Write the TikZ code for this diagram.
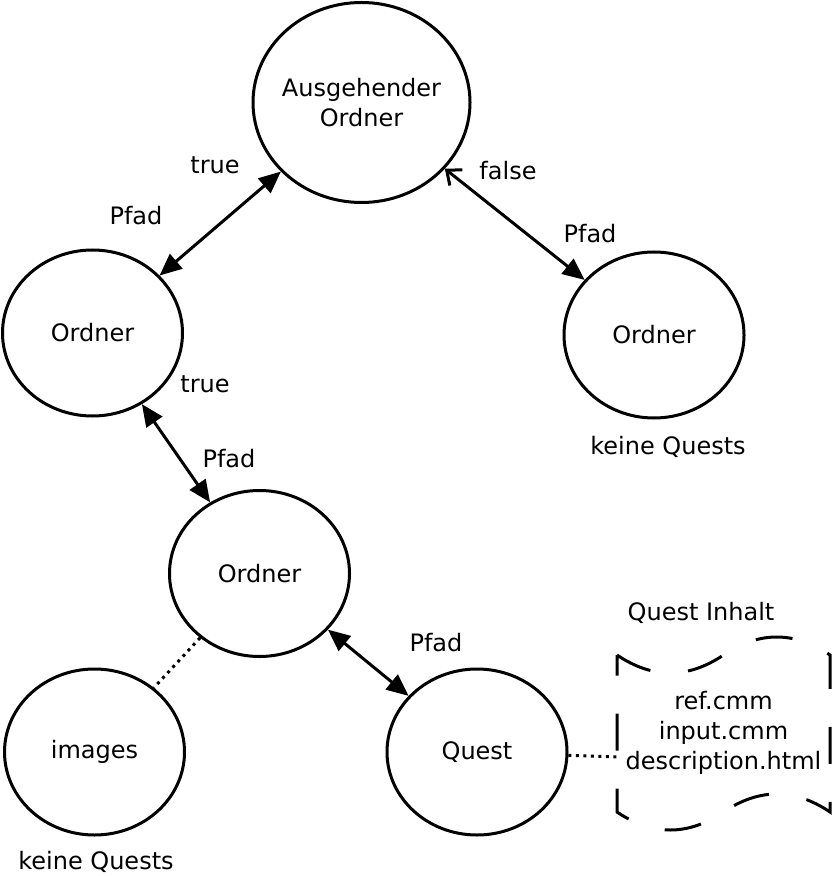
\documentclass[tikz,border=0pt]{standalone}
\usepackage{fontspec}
\setmainfont{DejaVu Sans}
\usetikzlibrary{shapes.geometric,arrows.meta}

\begin{document}
\begin{tikzpicture}[x=0.5pt,y=-0.5pt,
    font=\fontsize{12}{15}\selectfont,
    ordner/.style={draw,ellipse,line width=1.5pt,inner sep=0pt,
      minimum width=90pt,minimum height=83pt,align=center},
    pfeil/.style={line width=1.5pt,
      {Triangle[length=11pt,width=9.5pt]}-{Triangle[length=11pt,width=9.5pt]}},
    offen/.style={line width=1.5pt,
      {Straight Barb[length=6pt,width=10pt]}-{Triangle[length=11pt,width=9.5pt]}},
    punkte/.style={line width=1.5pt,dash pattern=on 1.5pt off 2.25pt}]
  \useasboundingbox (0,0) rectangle (832,876);

  %% Ordner
  \node[ordner,minimum width=108.5pt,minimum height=100pt,inner xsep=-4pt]
    (aus) at (361.5,102.5) {Ausgehender\\Ordner};
  \node[ordner] (links) at (92.5,333) {Ordner};
  \node[ordner] (rechts) at (654,335) {Ordner};
  \node[ordner] (mitte) at (259.5,573.5) {Ordner};
  \node[ordner] (images) at (94.5,752) {images};
  \node[ordner] (quest) at (477,752) {Quest};

  %% Quest Inhalt (tape)
  \node[align=center] (inhalt) at (723.5,733) {ref.cmm\\input.cmm\\description.html};
  \draw[line width=1.5pt,dash pattern=on 18.5pt off 19pt]
    (617,655) .. controls (652.5,679) and (688,679) .. (723.5,655)
    .. controls (759,631) and (794.5,631) .. (830,655)
    -- (830,812)
    .. controls (794.5,788) and (759,788) .. (723.5,812)
    .. controls (688,836) and (652.5,836) .. (617,812)
    -- cycle;
  \coordinate (inhalt_west) at (617,757);

  %% Labels
  \node (true1) at (215,165) {true};
  \node (pfad1) at (136,216) {Pfad};
  \node (false1) at (508,171) {false};
  \node (pfad2) at (590,234) {Pfad};
  \node (keine1) at (668,447) {keine Quests};
  \node (true2) at (205,384) {true};
  \node (pfad3) at (229,459) {Pfad};
  \node (inhaltlabel) at (701,613) {Quest Inhalt};
  \node (pfad4) at (436,643) {Pfad};
  \node (keine2) at (96,862) {keine Quests};

  %% Verbindungen
  \draw[pfeil] (aus) -- (links);
  \draw[offen] (aus) -- (rechts);
  \draw[pfeil] (links) -- (mitte);
  \draw[pfeil] (mitte) -- (quest);
  \draw[punkte] (mitte) -- (images);
  \draw[punkte] (quest) -- (inhalt_west);
\end{tikzpicture}
\end{document}
